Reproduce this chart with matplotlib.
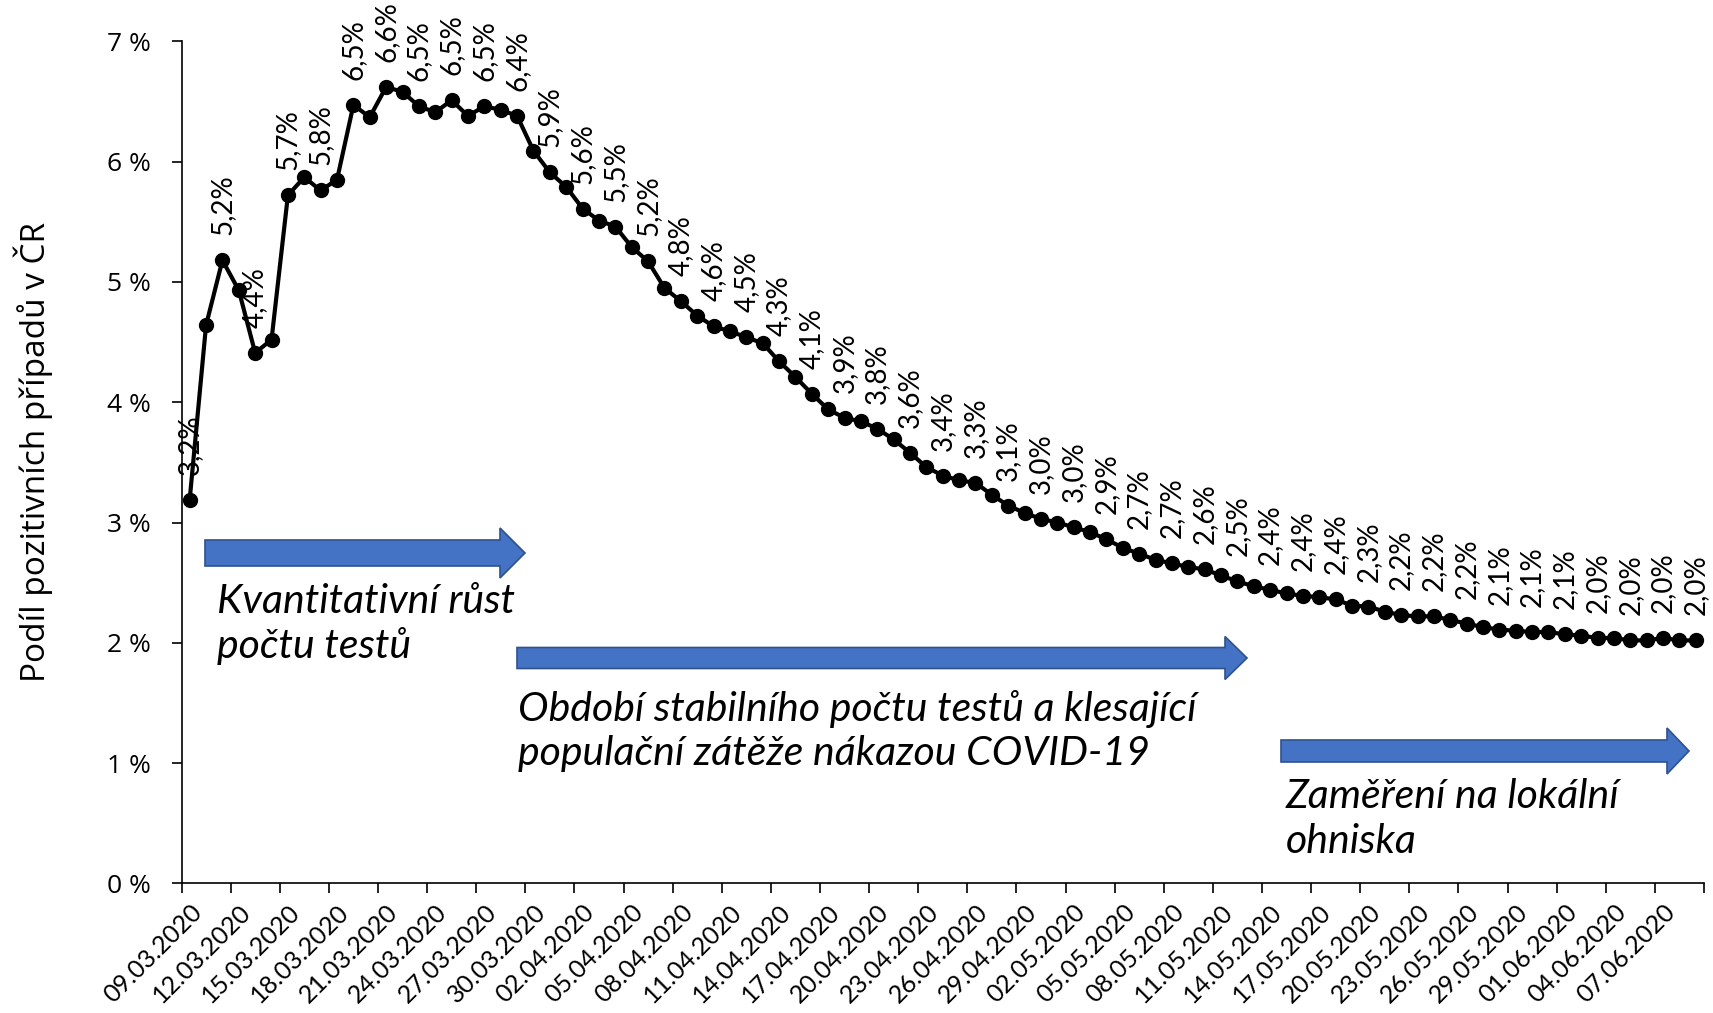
import matplotlib.pyplot as plt
import numpy as np
import pandas as pd
from matplotlib.patches import Polygon

# Podil pozitivnich pripadu (%), denne od 09.03.2020
podil = [3.19, 4.64, 5.18, 4.93, 4.41, 4.52, 5.72, 5.87, 5.76, 5.85,
         6.47, 6.37, 6.62, 6.58, 6.46, 6.41, 6.51, 6.38, 6.46, 6.43,
         6.38, 6.09, 5.91, 5.79, 5.61, 5.51, 5.46, 5.29, 5.17, 4.95,
         4.84, 4.72, 4.63, 4.59, 4.54, 4.49, 4.34, 4.21, 4.07, 3.94,
         3.87, 3.84, 3.78, 3.69, 3.58, 3.46, 3.39, 3.35, 3.33, 3.23,
         3.14, 3.08, 3.03, 3.00, 2.96, 2.92, 2.86, 2.79, 2.74, 2.69,
         2.66, 2.63, 2.61, 2.56, 2.51, 2.47, 2.44, 2.41, 2.39, 2.38,
         2.36, 2.31, 2.30, 2.26, 2.23, 2.22, 2.22, 2.19, 2.16, 2.13,
         2.11, 2.10, 2.09, 2.09, 2.07, 2.06, 2.04, 2.04, 2.02, 2.02,
         2.04, 2.02, 2.02]
datumy = pd.date_range('2020-03-09', periods=len(podil)).strftime('%d.%m.%Y').tolist()

popisky = [
    ('Kvantitativní růst\npočtu testů', 217, 624),
    ('Období stabilního počtu testů a klesající\npopulační zátěže nákazou COVID-19', 518, 731),
    ('Zaměření na lokální\nohniska', 1286, 819),
]
# sipky v pixelech obrazku: x0, x1, stred y, vyska drieku, vyska hlavy, delka hlavy
sipky = [
    (205, 525, 553, 26, 50, 25),
    (517, 1247, 658, 21, 43, 22),
    (1281, 1689, 751, 22, 46, 22),
]

W, H = 1713, 1013
fig = plt.figure(figsize=(W / 100, H / 100), dpi=100)
ax = fig.add_axes([181.5 / W, 1 - 883.4 / H, (1704 - 181.5) / W, (883.4 - 41.3) / H])

x = np.arange(len(podil))
ax.plot(x, podil, '-o', color='black', linewidth=3, markersize=10)

for i in range(0, len(podil), 2):
    ax.annotate(f'{podil[i]:.1f}%'.replace('.', ','), (x[i], podil[i]),
                xytext=(0, 18), textcoords='offset points', rotation=90,
                ha='center', va='bottom', fontsize=20, family='Lato')

ax.set_xlim(-0.5, len(podil) - 0.5)
ax.set_ylim(0, 7)
ax.set_yticks(range(0, 8))
ax.set_yticklabels([f'{v} %' for v in range(0, 8)], fontsize=19, family='Open Sans')
ax.set_xticks(np.arange(-0.5, len(podil), 3))
ax.set_xticklabels([])
ax.set_xticks(x[::3], minor=True)
ax.set_xticklabels(datumy[::3], minor=True, rotation=45, ha='right',
                   rotation_mode='anchor', fontsize=18, family='Lato')
ax.tick_params(axis='x', which='minor', length=0, pad=12)
ax.tick_params(axis='both', which='major', length=7, width=1.2)
ax.tick_params(axis='y', pad=15)
for s in ['top', 'right']:
    ax.spines[s].set_visible(False)
for s in ['left', 'bottom']:
    ax.spines[s].set_linewidth(1.2)

fig.text(33 / W, 1 - 452 / H, 'Podíl pozitivních případů v ČR', fontsize=24,
         family='Open Sans', rotation=90, ha='center', va='center')

for x0, x1, yc, sh, hh, hl in sipky:
    pts = [(x0, yc - sh / 2), (x1 - hl, yc - sh / 2), (x1 - hl, yc - hh / 2), (x1, yc),
           (x1 - hl, yc + hh / 2), (x1 - hl, yc + sh / 2), (x0, yc + sh / 2)]
    pts = [(px / W, 1 - py / H) for px, py in pts]
    fig.patches.append(Polygon(pts, closed=True, transform=fig.transFigure,
                               facecolor='#4472C4', edgecolor='#2F528F', linewidth=1.2))

for t, px, py in popisky:
    fig.text(px / W, 1 - py / H, t, fontsize=29.5, style='italic', family='Lato',
             ha='left', va='center', linespacing=1.25)

fig.savefig('out.png', dpi=100)
